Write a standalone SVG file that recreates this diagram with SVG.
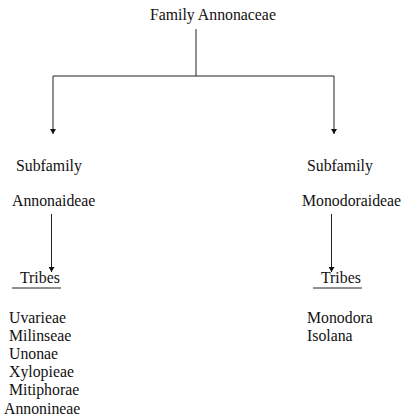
<svg xmlns="http://www.w3.org/2000/svg" width="404" height="419" viewBox="0 0 404 419">
<style>
text{font-family:"Liberation Serif","Times New Roman",serif;font-size:15.8px;fill:#111}
.ln{stroke:#222;stroke-width:1;fill:none}
</style>
<defs>
<marker id="ah" viewBox="0 0 5 6" refX="5" refY="3" markerWidth="5" markerHeight="6" orient="auto" markerUnits="userSpaceOnUse">
<path d="M0,0 L5,3 L0,6 Z" fill="#111"/>
</marker>
</defs>
<rect width="404" height="419" fill="#fff"/>
<g id="connectors">
<path class="ln" d="M196,29 V76"/>
<path class="ln" d="M53,76 H334"/>
<path class="ln" d="M53,76 V134" marker-end="url(#ah)"/>
<path class="ln" d="M334,76 V134" marker-end="url(#ah)"/>
<path class="ln" d="M51.5,214 V272" marker-end="url(#ah)"/>
<path class="ln" d="M331.5,214 V272" marker-end="url(#ah)"/>
</g>
<g id="family"><text x="150" y="20">Family Annonaceae</text></g>
<g id="subfamily-left">
<text x="16" y="171">Subfamily</text>
<text x="12" y="206">Annonaideae</text>
</g>
<g id="subfamily-right">
<text x="307" y="171">Subfamily</text>
<text x="302" y="206">Monodoraideae</text>
</g>
<g id="tribes-left">
<text x="20" y="283">Tribes</text>
<path class="ln" d="M12,288 H61"/>
<text x="9" y="323">Uvarieae</text>
<text x="9" y="341">Milinseae</text>
<text x="9" y="359">Unonae</text>
<text x="9" y="377">Xylopieae</text>
<text x="9" y="395">Mitiphorae</text>
<text x="4" y="414">Annonineae</text>
</g>
<g id="tribes-right">
<text x="321" y="283">Tribes</text>
<path class="ln" d="M313,288 H362"/>
<text x="307" y="323">Monodora</text>
<text x="307" y="341">Isolana</text>
</g>
</svg>
